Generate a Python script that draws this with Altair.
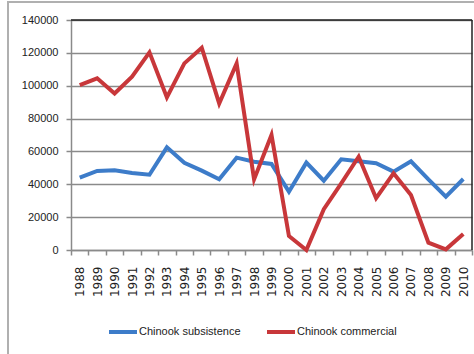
import altair as alt
import pandas as pd

years = [str(y) for y in range(1988, 2011)]
subsistence = [44000, 48100, 48500, 46900, 45800, 62500, 53100, 48300, 43000, 56200,
               53700, 52400, 35500, 53200, 42200, 55200, 54000, 52800, 47700, 54000,
               43000, 32500, 43200]
commercial = [100400, 104500, 95300, 105500, 120300, 92900, 113600, 123100, 89200, 113600,
              43000, 70000, 8500, 0, 24800, 40600, 56800, 31500, 46700, 33500,
              4500, 400, 9700]
series_names = ["Chinook subsistence", "Chinook commercial"]
colors = ["#3D7CC9", "#C8373A"]

rows = []
for i, y in enumerate(years):
    rows.append({"year": y, "series": series_names[0], "value": subsistence[i]})
    rows.append({"year": y, "series": series_names[1], "value": commercial[i]})
df = pd.DataFrame(rows)

NARROW = "Liberation Sans"
WIDE = "DejaVu Sans"

one = pd.DataFrame({"a": [0]})

frame = alt.Chart(one).mark_rect(
    fill=None, stroke="#b0b0b0", strokeWidth=2
).encode(
    x=alt.value(-63), x2=alt.value(420), y=alt.value(-18), y2=alt.value(360)
)

lines = alt.Chart(df).mark_line(strokeWidth=4).encode(
    x=alt.X("year:O", sort=years,
            scale=alt.Scale(type="band", paddingInner=0, paddingOuter=0),
            axis=alt.Axis(title=None, labelAngle=-90, tickBand="extent", grid=False,
                          domainColor="#8a8a8a", domainWidth=1.5, tickColor="#8a8a8a",
                          tickWidth=1.5, tickSize=5, labelFont=WIDE, labelFontSize=12,
                          labelColor="#222", labelPadding=11, labelBaseline="middle",
                          labelAlign="right")),
    y=alt.Y("value:Q",
            scale=alt.Scale(domain=[0, 140000], nice=False),
            axis=alt.Axis(title=None, values=list(range(0, 140001, 20000)), format="d",
                          grid=True, gridColor="#8a8a8a", gridWidth=1.5,
                          domainColor="#8a8a8a", domainWidth=1.5, tickColor="#8a8a8a",
                          tickWidth=1.5, tickSize=5, labelFont=NARROW, labelFontSize=11,
                          labelColor="#222", labelPadding=8)),
    color=alt.Color("series:N", sort=series_names,
                    scale=alt.Scale(domain=series_names, range=colors),
                    legend=alt.Legend(title=None, orient="none", direction="horizontal",
                                      legendX=36, legendY=296, symbolType="stroke",
                                      symbolSize=784, symbolStrokeWidth=4,
                                      labelFont=NARROW, labelFontSize=11, labelColor="#222",
                                      labelOffset=0, columnPadding=18)),
)

top_border = alt.Chart(one).mark_rule(color="#222", strokeWidth=1.5).encode(
    x=alt.value(0), x2=alt.value(401), y=alt.value(0)
)
right_border = alt.Chart(one).mark_rule(color="#222", strokeWidth=1.5).encode(
    x=alt.value(401), y=alt.value(0), y2=alt.value(230)
)

chart = alt.layer(frame, lines, top_border, right_border).properties(
    width=401, height=230,
    autosize=alt.AutoSizeParams(type="none"),
    padding={"left": 71, "top": 20, "right": 2, "bottom": 104},
    background="white",
).configure_view(stroke=None)

chart.save("out.html", embed_options={"renderer": "svg", "actions": False})
